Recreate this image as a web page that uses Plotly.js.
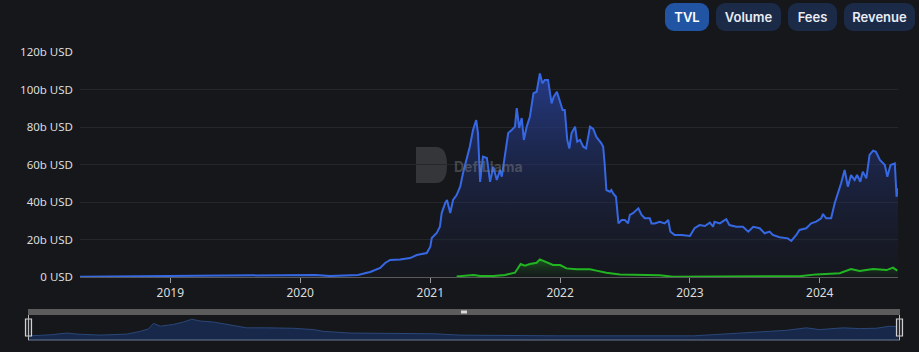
<!DOCTYPE html>
<html>
<head>
<meta charset="utf-8">
<script src="https://cdn.plot.ly/plotly-3.0.1.min.js"></script>
<style>
  html, body { margin: 0; padding: 0; background: #16171b; }
  #wrap { position: relative; width: 919px; height: 352px; }
  #chart { position: absolute; left: 0; top: 0; width: 919px; height: 352px; }
  .btn { position: absolute; top: 3px; height: 28px; border-radius: 9px; background: #1b2a47;
         color: #e8ecf4; font-family: Inter, "Noto Sans", sans-serif; font-size: 13px; font-weight: 600;
         display: flex; align-items: center; justify-content: center; }
  .btn.active { background: #2155a3; color: #ffffff; }
</style>
</head>
<body>
<div id="wrap">
  <div id="chart"></div>
  <div class="btn active" style="left:665px;width:44px;">TVL</div>
  <div class="btn" style="left:716px;width:65px;">Volume</div>
  <div class="btn" style="left:788px;width:49px;">Fees</div>
  <div class="btn" style="left:844px;width:71px;">Revenue</div>
</div>
<script>
// ---- data (values in billions of USD) ----
const tvlDates = [
  "2018-04-22","2018-08-13","2019-01-01","2019-05-21","2019-10-09","2020-01-01","2020-02-12","2020-03-25",
  "2020-05-21","2020-06-12","2020-07-01","2020-07-16","2020-08-13","2020-08-27","2020-09-10","2020-10-08",
  "2020-11-05","2020-11-24","2020-12-22","2021-01-01","2021-01-05","2021-01-19","2021-01-28","2021-02-02",
  "2021-02-12","2021-02-17","2021-02-26","2021-03-06","2021-03-16","2021-03-26","2021-04-03","2021-04-22",
  "2021-05-01","2021-05-10","2021-05-15","2021-05-21","2021-05-29","2021-06-09","2021-06-18","2021-06-27",
  "2021-07-07","2021-07-16","2021-07-21","2021-07-30","2021-08-08","2021-08-18","2021-08-27","2021-09-01",
  "2021-09-08","2021-09-15","2021-09-21","2021-09-29","2021-10-08","2021-10-18","2021-10-27","2021-11-05",
  "2021-11-12","2021-11-19","2021-11-28","2021-12-08","2021-12-14","2021-12-23","2022-01-01","2022-01-08",
  "2022-01-14","2022-01-21","2022-01-27","2022-02-02","2022-02-12","2022-02-18","2022-02-26","2022-03-07",
  "2022-03-15","2022-03-26","2022-04-04","2022-04-13","2022-04-27","2022-05-02","2022-05-06","2022-05-11",
  "2022-05-21","2022-05-25","2022-05-30","2022-06-07","2022-06-14","2022-06-23","2022-07-02","2022-07-11",
  "2022-07-16","2022-07-25","2022-08-09","2022-08-18","2022-08-27","2022-09-10","2022-09-15","2022-09-24",
  "2022-10-08","2022-10-22","2022-11-01","2022-11-07","2022-11-19","2022-12-08","2023-01-01","2023-01-14",
  "2023-01-28","2023-02-12","2023-02-26","2023-03-07","2023-03-11","2023-03-26","2023-04-13","2023-04-22",
  "2023-05-11","2023-05-30","2023-06-14","2023-06-28","2023-07-16","2023-07-30","2023-08-13","2023-08-22",
  "2023-09-10","2023-10-03","2023-10-13","2023-10-27","2023-11-05","2023-11-24","2023-12-08","2023-12-22",
  "2024-01-05","2024-01-10","2024-01-19","2024-02-02","2024-02-12","2024-02-21","2024-03-01","2024-03-11",
  "2024-03-20","2024-03-29","2024-04-08","2024-04-15","2024-04-24","2024-05-01","2024-05-11","2024-05-20",
  "2024-05-30","2024-06-07","2024-06-18","2024-07-02","2024-07-09","2024-07-18","2024-07-30","2024-08-04",
  "2024-08-08"
];
const tvlValues = [
  0.2,0.3,0.5,0.6,0.6,0.8,1.1,0.5,
  0.9,1.1,2.0,2.7,4.8,7.5,9.1,9.3,
  10.1,11.7,12.8,16.2,20.8,23.5,26.8,34.1,
  39.5,41.1,34.1,41.1,43.7,48.2,55.5,69.5,
  78.4,83.7,76.8,50.7,64.2,63.5,50.8,58.8,
  51.7,57.1,53.5,66.1,76.8,78.4,80.2,90.1,
  79.5,84.8,73.1,80.2,85.5,98.0,98.8,108.6,
  103.3,105.1,105.1,92.6,96.2,98.8,92.6,89.1,
  89.1,73.1,68.6,76.6,80.2,72.2,73.1,69.5,
  68.6,80.2,79.0,74.7,71.3,69.5,60.8,46.4,
  45.5,46.4,44.6,42.8,28.6,30.4,30.4,28.6,
  33.1,34.0,36.6,33.1,31.3,31.3,28.6,28.6,
  29.5,28.6,30.4,24.2,22.4,22.4,21.9,26.0,
  27.7,27.2,29.0,26.8,29.5,28.6,30.8,27.7,
  26.8,26.8,24.2,26.8,26.0,23.3,24.2,22.4,
  21.2,20.6,19.2,22.4,25.1,26.0,28.6,29.5,
  31.3,33.6,31.3,31.3,39.3,44.6,50.0,57.1,
  48.2,54.4,51.7,54.4,50.8,56.2,52.6,65.1,
  67.4,66.8,62.4,59.7,53.5,59.7,60.6,42.8,
  47.3
];
const secondDates = [
  "2021-03-16","2021-04-09","2021-05-03","2021-05-21","2021-06-27","2021-07-30","2021-08-27","2021-09-12",
  "2021-09-24","2021-10-08","2021-10-27","2021-11-05","2021-11-19","2021-12-12","2022-01-01","2022-01-19",
  "2022-02-16","2022-03-26","2022-04-13","2022-05-11","2022-06-18","2022-08-13","2022-10-08","2022-11-14",
  "2023-05-21","2023-11-05","2023-12-22","2024-02-26","2024-03-29","2024-04-22","2024-05-30","2024-07-07",
  "2024-07-25","2024-08-06"
];
const secondValues = [
  0.3,0.8,1.1,0.5,0.5,1.1,2.3,6.9,
  6.0,6.9,7.6,9.4,8.2,6.4,6.4,4.6,
  4.1,4.1,3.4,2.3,1.4,1.2,0.9,0.2,
  0.2,0.4,1.4,2.0,4.3,3.2,4.3,3.7,
  5.0,3.4
];
const sliderDates = [
  "2018-04-23","2018-06-20","2018-08-03","2018-08-29","2018-10-29","2019-01-08","2019-02-12","2019-03-06",
  "2019-03-19","2019-04-06","2019-05-11","2019-06-06","2019-06-28","2019-07-20","2019-08-24","2019-10-16",
  "2019-11-20","2020-01-11","2020-03-22","2020-05-14","2020-06-10","2020-08-19","2020-12-29","2021-03-27",
  "2021-06-05","2022-02-23","2023-02-10","2023-05-25","2023-08-04","2023-10-13","2023-12-05","2024-01-09",
  "2024-03-10","2024-04-23","2024-06-07","2024-07-12","2024-08-03"
];
const sliderValues = [
  4.0,5.0,6.7,5.7,4.7,5.7,8.3,10.7,
  16.0,13.3,15.0,17.3,20.0,18.3,17.3,14.3,
  11.7,11.7,11.3,10.0,8.3,6.7,6.0,6.0,
  4.7,4.0,4.0,6.0,7.3,9.3,11.7,10.0,
  11.7,11.0,11.3,13.3,12.7
];
const yTickVals = [0, 20, 40, 60, 80, 100, 120];
const yTickText = ["0 USD","20b USD","40b USD","60b USD","80b USD","100b USD","120b USD"];
const xTickVals = ["2019-01-01","2020-01-01","2021-01-01","2022-01-01","2023-01-01","2024-01-01"];
const xTickText = ["2019","2020","2021","2022","2023","2024"];
const xStart = "2018-04-22", xEnd = "2024-08-08";

// ---- geometry helpers (pixels -> paper) ----
const W = 919, H = 352, mL = 28, mR = 19, mT = 52, mB = 12;
const pw = W - mL - mR, ph = H - mT - mB;
const px = v => (v - mL) / pw;
const py = v => (H - mB - v) / ph;

const traces = [
  {
    x: tvlDates, y: tvlValues, type: 'scatter', mode: 'lines',
    line: { color: '#3768e3', width: 2 },
    fill: 'tozeroy',
    fillgradient: { type: 'vertical', colorscale: [[0, 'rgba(22,26,45,0.2)'], [1, 'rgba(42,70,170,0.75)']] },
    xaxis: 'x', yaxis: 'y', hoverinfo: 'skip'
  },
  {
    x: secondDates, y: secondValues, type: 'scatter', mode: 'lines',
    line: { color: '#22b522', width: 2 },
    fill: 'tozeroy',
    fillgradient: { type: 'vertical', colorscale: [[0, 'rgba(20,40,20,0.2)'], [1, 'rgba(30,110,30,0.75)']] },
    xaxis: 'x', yaxis: 'y', hoverinfo: 'skip'
  },
  {
    x: sliderDates, y: sliderValues, type: 'scatter', mode: 'lines',
    line: { color: '#2a4777', width: 1 },
    fill: 'tozeroy', fillcolor: '#18284a',
    xaxis: 'x2', yaxis: 'y2', hoverinfo: 'skip'
  }
];

const shapes = [
  // slider top bar
  { type: 'rect', xref: 'paper', yref: 'paper', x0: px(28), x1: px(900), y0: py(315), y1: py(309),
    fillcolor: '#5c5c5c', line: { width: 0 }, layer: 'above' },
  { type: 'rect', xref: 'paper', yref: 'paper', x0: px(461), x1: px(467), y0: py(313.5), y1: py(310.5),
    fillcolor: '#d8d8d8', line: { width: 0 }, layer: 'above' },
  // slider bottom line
  { type: 'line', xref: 'paper', yref: 'paper', x0: px(28), x1: px(900), y0: py(340), y1: py(340),
    line: { color: '#6a7890', width: 1 }, layer: 'above' },
  // slider handles
  { type: 'rect', xref: 'paper', yref: 'paper', x0: px(25.5), x1: px(31.5), y0: py(336), y1: py(319),
    fillcolor: '#2a2b30', line: { color: '#d0d0d0', width: 1.2 }, layer: 'above' },
  { type: 'line', xref: 'paper', yref: 'paper', x0: px(28.5), x1: px(28.5), y0: py(340), y1: py(315),
    line: { color: '#bbbbbb', width: 1 }, layer: 'above' },
  { type: 'rect', xref: 'paper', yref: 'paper', x0: px(896.5), x1: px(902.5), y0: py(336), y1: py(319),
    fillcolor: '#2a2b30', line: { color: '#d0d0d0', width: 1.2 }, layer: 'above' },
  { type: 'line', xref: 'paper', yref: 'paper', x0: px(899.5), x1: px(899.5), y0: py(340), y1: py(315),
    line: { color: '#bbbbbb', width: 1 }, layer: 'above' },
  // watermark logo
  { type: 'path', xref: 'paper', yref: 'paper', layer: 'below',
    path: (() => {
      const x0 = px(416), x1 = px(436), x2 = px(447), y0 = py(147), y1 = py(183), ym = py(165);
      return `M ${x0} ${y0} L ${x1} ${y0} Q ${x2} ${y0} ${x2} ${ym} Q ${x2} ${y1} ${x1} ${y1} L ${x0} ${y1} Z`;
    })(),
    fillcolor: 'rgba(120,120,120,0.32)', line: { width: 0 } }
];

const annotations = [
  { xref: 'paper', yref: 'paper', x: px(452), y: py(166), xanchor: 'left', yanchor: 'middle',
    text: 'DefiLlama', showarrow: false,
    font: { family: 'Inter, Noto Sans, sans-serif', size: 14, color: 'rgba(130,130,130,0.45)', weight: 700 } }
];

const layout = {
  width: W, height: H,
  margin: { l: mL, r: mR, t: mT, b: mB, pad: 0 },
  paper_bgcolor: '#16171b', plot_bgcolor: '#16171b',
  showlegend: false,
  font: { family: 'Noto Sans, Open Sans, sans-serif', color: '#d8d8d8', size: 11 },
  xaxis: {
    type: 'date', domain: [px(80), px(898)], range: [xStart, xEnd],
    tickvals: xTickVals, ticktext: xTickText,
    ticks: 'outside', ticklen: 5, tickcolor: '#9a9a9a', tickwidth: 1,
    showline: true, linecolor: '#5a5a5a', linewidth: 1,
    showgrid: false, zeroline: false, anchor: 'y',
    tickfont: { size: 12, color: '#dcdcdc' }
  },
  yaxis: {
    domain: [py(277), py(52)], range: [0, 120],
    tickvals: yTickVals, ticktext: yTickText,
    showgrid: true, gridcolor: '#26272c', gridwidth: 1,
    zeroline: false, showline: false, ticks: '', anchor: 'x',
    tickfont: { size: 11.5, color: '#dcdcdc' }, ticklabelstandoff: 6
  },
  xaxis2: {
    type: 'date', domain: [0, 1], range: [xStart, xEnd], anchor: 'y2',
    showticklabels: false, showgrid: false, zeroline: false, showline: false, ticks: ''
  },
  yaxis2: {
    domain: [0, py(313)], range: [0, 26], anchor: 'x2',
    showticklabels: false, showgrid: false, zeroline: false, showline: false, ticks: ''
  },
  shapes: shapes,
  annotations: annotations
};

Plotly.newPlot('chart', traces, layout, { staticPlot: true, displayModeBar: false });
</script>
</body>
</html>
